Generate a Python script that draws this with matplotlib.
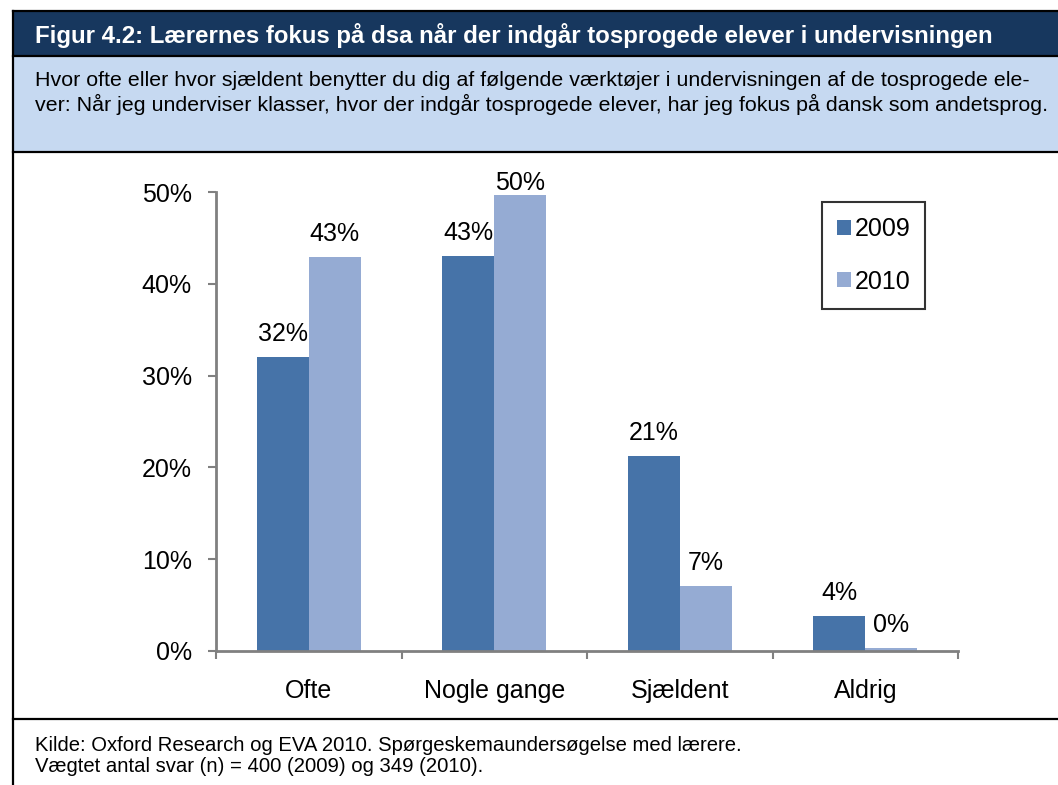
import matplotlib.pyplot as plt
import numpy as np
from matplotlib.patches import Rectangle
from matplotlib.lines import Line2D

plt.rcParams['font.family'] = ['Liberation Sans', 'DejaVu Sans']

categories = ['Ofte', 'Nogle gange', 'Sjældent', 'Aldrig']
years = ['2009', '2010']
vals_2009 = [32.0, 43.0, 21.2, 3.8]
vals_2010 = [42.9, 49.7, 7.1, 0.3]
labels_2009 = ['32%', '43%', '21%', '4%']
labels_2010 = ['43%', '50%', '7%', '0%']
yticks = [0, 10, 20, 30, 40, 50]

title = 'Figur 4.2: Lærernes fokus på dsa når der indgår tosprogede elever i undervisningen'
subtitle = ('Hvor ofte eller hvor sjældent benytter du dig af følgende værktøjer i undervisningen af de tosprogede ele-\n'
            'ver: Når jeg underviser klasser, hvor der indgår tosprogede elever, har jeg fokus på dansk som andetsprog.')
footer = ('Kilde: Oxford Research og EVA 2010. Spørgeskemaundersøgelse med lærere.\n'
          'Vægtet antal svar (n) = 400 (2009) og 349 (2010).')

c09 = '#4673A8'
c10 = '#95ABD3'

W, H = 1058, 785
fig = plt.figure(figsize=(W / 100, H / 100), dpi=100)

def fx(px):
    return px / W

def fy(py):
    return 1 - py / H

# header boxes
fig.patches.append(Rectangle((fx(13), fy(56)), 1, 45 / H, transform=fig.transFigure,
                             facecolor='#17375E', edgecolor='none', zorder=0))
fig.patches.append(Rectangle((fx(13), fy(152)), 1, 96 / H, transform=fig.transFigure,
                             facecolor='#C6D9F1', edgecolor='none', zorder=0))
for yy in [11, 56, 152, 719]:
    fig.add_artist(Line2D([fx(13), 1], [fy(yy), fy(yy)], transform=fig.transFigure,
                          color='black', lw=1.6))
fig.add_artist(Line2D([fx(13), fx(13)], [fy(11), 0], transform=fig.transFigure,
                      color='black', lw=1.6))

fig.text(fx(35), fy(36), title, color='white', fontsize=17.3, fontweight='bold',
         va='center', ha='left')
fig.text(fx(35), fy(93), subtitle, color='black', fontsize=15.4, va='center', ha='left',
         linespacing=1.2)
fig.text(fx(35), fy(756), footer, color='black', fontsize=14.6, va='center', ha='left',
         linespacing=1.15)

ax = fig.add_axes([fx(216), fy(651), (958 - 216) / W, (651 - 192) / H])
x = np.arange(len(categories))
w = 0.28
b1 = ax.bar(x - w / 2, vals_2009, w, color=c09, label=years[0], zorder=2)
b2 = ax.bar(x + w / 2, vals_2010, w, color=c10, label=years[1], zorder=2)

for bars, labs in [(b1, labels_2009), (b2, labels_2010)]:
    for rect, lab in zip(bars, labs):
        ty = min(rect.get_height() + 1.75, 50.2)
        ax.text(rect.get_x() + rect.get_width() / 2, ty, lab,
                ha='center', va='baseline', fontsize=18, clip_on=False)

ax.set_xlim(-0.5, len(categories) - 0.5)
ax.set_ylim(0, 50)
ax.set_yticks(yticks)
ax.set_yticklabels([f'{t}%' for t in yticks], fontsize=18)
ax.set_xticks(x)
ax.set_xticklabels(categories, fontsize=18)
ax.set_xticks(np.arange(-0.5, len(categories), 1), minor=True)
ax.tick_params(axis='x', which='major', length=0, pad=20)
ax.tick_params(axis='x', which='minor', length=6, color='#808080', width=1.5)
ax.tick_params(axis='y', length=6, color='#808080', width=1.5, pad=11.3)
for s in ['top', 'right']:
    ax.spines[s].set_visible(False)
for s in ['left', 'bottom']:
    ax.spines[s].set_color('#808080')
    ax.spines[s].set_linewidth(2)

leg = ax.legend(loc='upper left', bbox_to_anchor=((822 - 216) / 742, (651 - 202) / 459),
                fontsize=18, frameon=True, fancybox=False, handlelength=0.55,
                handleheight=0.55, handletextpad=0.15, labelspacing=1.15,
                borderpad=0.6, borderaxespad=0)
leg.get_frame().set_edgecolor('black')
leg.get_frame().set_linewidth(1.5)
leg._legend_box.align = 'left'

fig.savefig('out.png', dpi=100)
